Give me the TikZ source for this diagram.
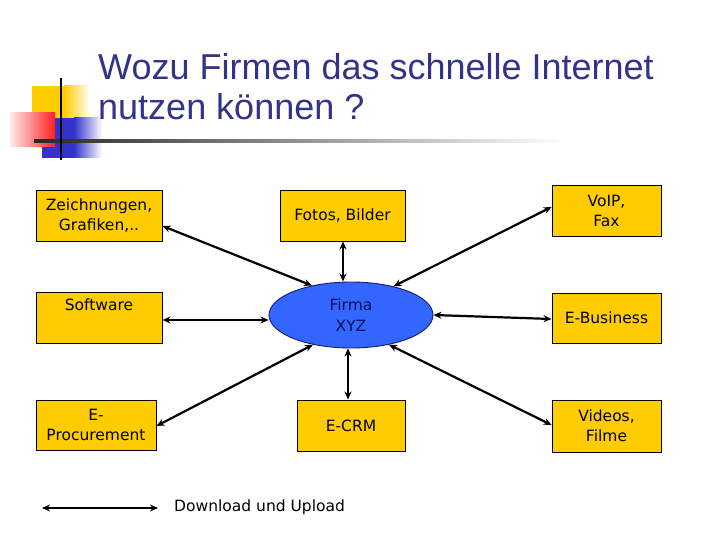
\documentclass[tikz,border=0pt]{standalone}
\usepackage{fontspec}
\setmainfont{Liberation Sans}
\newfontfamily\boxfont{DejaVu Sans}
\usetikzlibrary{arrows.meta,shapes.geometric}
\definecolor{boxyellow}{HTML}{FFCC00}
\definecolor{titleblue}{HTML}{333388}
\definecolor{ellblue}{HTML}{3366FF}
\definecolor{ellborder}{HTML}{1A1A66}
\definecolor{elltext}{HTML}{0D0D55}
\definecolor{logoblue}{HTML}{3333CC}
\definecolor{logored}{HTML}{FF2020}
\tikzset{
  ybox/.style={draw=black, line width=0.9pt, fill=boxyellow, rectangle, inner sep=0pt,
    align=center, font=\boxfont\fontsize{15.5}{20}\selectfont},
  link/.style={line width=2.2pt, {Stealth[length=8pt,width=7pt]}-{Stealth[length=8pt,width=7pt]}},
  ttl/.style={anchor=base west, text=titleblue, font=\fontsize{36}{40}\selectfont, inner sep=0pt},
}
\begin{document}
\begin{tikzpicture}[x=1pt,y=-1pt]
\useasboundingbox (0,0) rectangle (720,540);
% logo
\fill[boxyellow] (32,86) rectangle (64,118);
\shade[left color=boxyellow, right color=white] (64,86) rectangle (90,118);
\fill[logoblue] (42,118) rectangle (74,158);
\shade[left color=logoblue, right color=white] (74,118) rectangle (102,158);
\shade[left color=red!8, right color=logored] (10,113) rectangle (55,147);
\shade[left color=black!85, right color=white] (34,139.5) rectangle (565,142.5);
\draw[line width=2pt, black] (61,78) -- (61,160);
% title
\node[ttl] (title1) at (98,80) {Wozu Firmen das schnelle Internet};
\node[ttl] (title2) at (98,120) {nutzen können ?};
% boxes
\node[ybox, minimum width=126, minimum height=51] (zei) at (99,215.5) {Zeichnungen,\\Grafiken,..};
\node[ybox, minimum width=126, minimum height=51] (soft) at (99,317.5) {Software\\\strut};
\node[ybox, minimum width=120, minimum height=50] (eproc) at (96,425) {E-\\Procurement};
\node[ybox, minimum width=125, minimum height=51] (fotos) at (342.5,215.5) {Fotos, Bilder};
\node[ybox, minimum width=108, minimum height=51] (ecrm) at (351,425.5) {E-CRM};
\node[ybox, minimum width=109, minimum height=51] (voip) at (606.5,210.5) {VoIP,\\Fax};
\node[ybox, minimum width=109, minimum height=50] (ebus) at (606.5,318) {E-Business};
\node[ybox, minimum width=109, minimum height=52] (vid) at (606.5,426) {Videos,\\Filme};
\node[ellipse, draw=ellborder, line width=0.9pt, fill=ellblue, minimum width=164, minimum height=66,
  inner sep=0pt, align=center, text=elltext, font=\boxfont\fontsize{15.5}{21}\selectfont] (firma) at (351,315) {Firma\\XYZ};
% connectors
\draw[link] (zei.east |- 0,226) -- (firma.143);
\draw[link] (soft.east |- 0,320) -- (firma.west |- 0,320);
\draw[link] (eproc.east |- 0,426) -- (firma.218);
\draw[link] (fotos.south -| 343,0) -- (firma.north -| 343,0);
\draw[link] (firma.south -| 348,0) -- (ecrm.north -| 348,0);
\draw[link] (firma.34) -- (voip.west |- 0,207);
\draw[link] (firma.east) -- (ebus.west |- 0,319);
\draw[link] (firma.322) -- (vid.west |- 0,425);
% legend
\coordinate (la) at (42,508);
\coordinate (lb) at (158,508);
\draw[link] (la) -- (lb);
\node[anchor=west, inner sep=0pt, font=\boxfont\fontsize{15.5}{20}\selectfont] (leg) at (174,507) {Download und Upload};
\end{tikzpicture}
\end{document}
